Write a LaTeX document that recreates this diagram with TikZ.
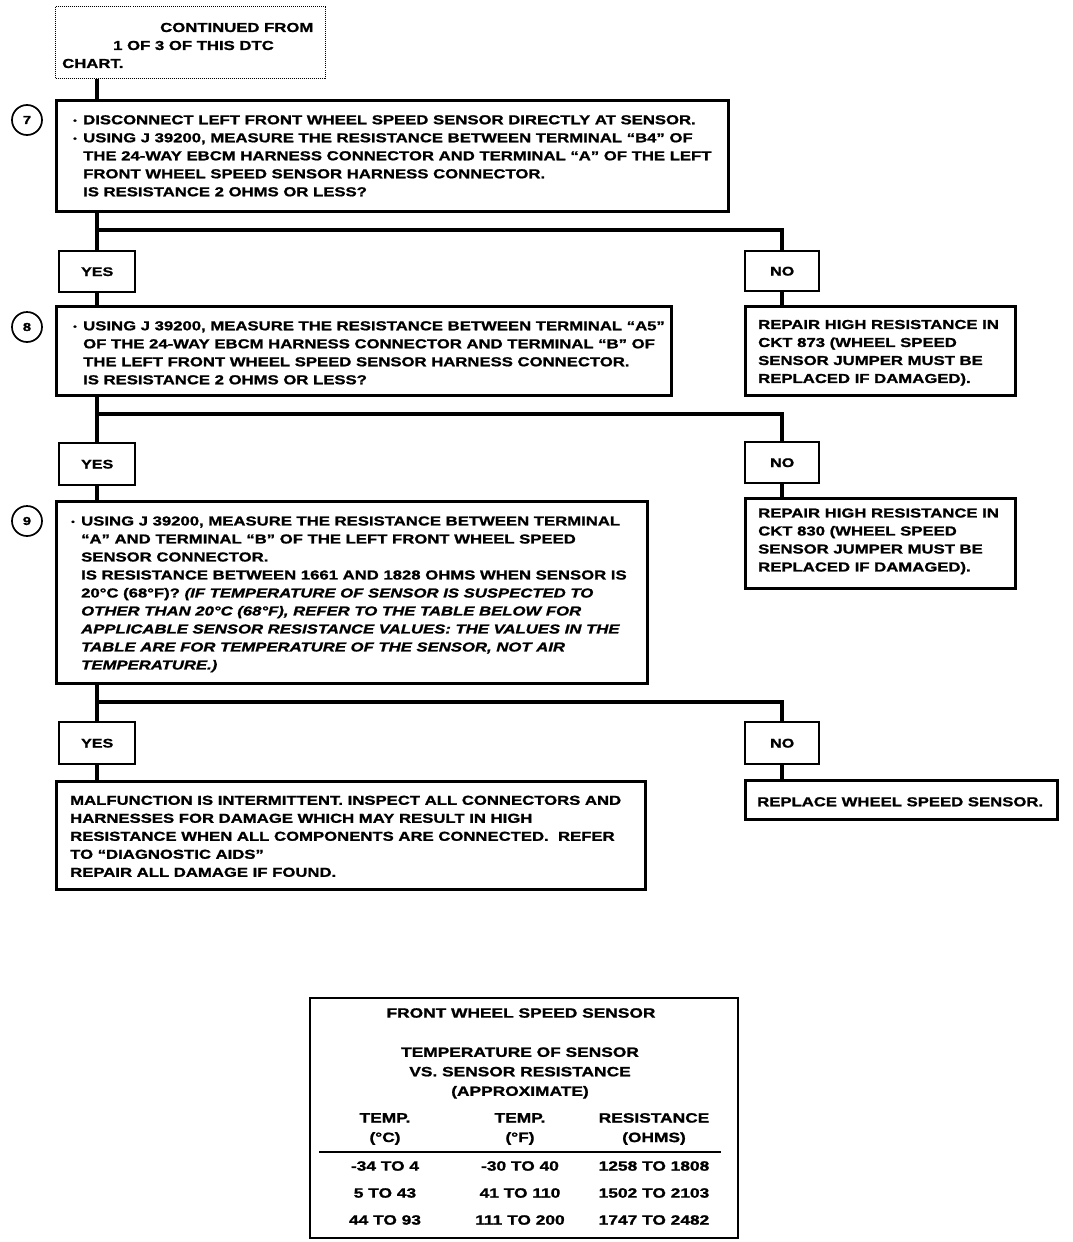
\documentclass[tikz,border=0pt]{standalone}
\usepackage{fontspec}
\setmainfont{Liberation Sans}[FakeStretch=1.285, BoldFeatures={FakeBold=1.3}, BoldItalicFeatures={FakeBold=1.3}]
\usetikzlibrary{calc}
\tikzset{
  box/.style={draw, rectangle, line width=2.6pt, inner sep=0pt, anchor=north west},
  txt/.style={align=left, inner sep=0pt, anchor=west, font=\bfseries\fontsize{13}{18}\selectfont},
  yn/.style={draw, rectangle, line width=2.4pt, inner sep=0pt, anchor=north west, minimum width=76, minimum height=41, font=\bfseries\fontsize{12.5}{14}\selectfont},
  stepc/.style={draw, circle, line width=1.7pt, minimum size=30, inner sep=0pt, font=\bfseries\fontsize{11.5}{12}\selectfont},
  conn/.style={line width=3.6pt},
  tabt/.style={align=center, inner sep=0pt, font=\bfseries\fontsize{13.5}{19.5}\selectfont},
}
\newcommand{\bul}{\makebox[10pt][l]{\raisebox{1pt}{\fontsize{8}{8}\selectfont •}}}
\newcommand{\ind}{\hspace*{10pt}}
\begin{document}
\begin{tikzpicture}[x=1pt,y=-1pt]
\useasboundingbox (0,0) rectangle (1072,1242);

% top continued box
\node[draw, rectangle, densely dotted, line width=1pt, inner sep=0pt, anchor=north west, minimum width=270, minimum height=72] (top) at (55,6) {};
\node[txt] (ttop) at ($(top.west)+(7,3)$) {\hspace*{98pt}CONTINUED FROM\\\hspace*{51pt}1 OF 3 OF THIS DTC\\CHART.};

% step 7
\node[box, minimum width=672, minimum height=111] (b7) at (55,99) {};
\node[stepc] (s7) at (27,120) {7};
\node[txt] (t7) at ($(b7.west)+(18,0)$) {\bul DISCONNECT LEFT FRONT WHEEL SPEED SENSOR DIRECTLY AT SENSOR.\\
\bul USING J 39200, MEASURE THE RESISTANCE BETWEEN TERMINAL “B4” OF\\
\ind THE 24-WAY EBCM HARNESS CONNECTOR AND TERMINAL “A” OF THE LEFT\\
\ind FRONT WHEEL SPEED SENSOR HARNESS CONNECTOR.\\
\ind IS RESISTANCE 2 OHMS OR LESS?};

\node[yn] (y1) at (58,250) {YES};
\node[yn, minimum width=74, minimum height=40] (n1) at (744,250) {NO};
\coordinate (j1) at (96,230);

% step 8
\node[box, minimum width=615, minimum height=89] (b8) at (55,305) {};
\node[stepc] (s8) at (27,327) {8};
\node[txt] (t8) at ($(b8.west)+(18,2)$) {\bul USING J 39200, MEASURE THE RESISTANCE BETWEEN TERMINAL “A5”\\
\ind OF THE 24-WAY EBCM HARNESS CONNECTOR AND TERMINAL “B” OF\\
\ind THE LEFT FRONT WHEEL SPEED SENSOR HARNESS CONNECTOR.\\
\ind IS RESISTANCE 2 OHMS OR LESS?};

\node[box, minimum width=270, minimum height=89] (r1) at (744,305) {};
\node[txt] (tr1) at ($(r1.west)+(14,2)$) {REPAIR HIGH RESISTANCE IN\\CKT 873 (WHEEL SPEED\\SENSOR JUMPER MUST BE\\REPLACED IF DAMAGED).};

\node[yn, minimum height=42] (y2) at (58,442) {YES};
\node[yn, minimum width=74, minimum height=41] (n2) at (744,441) {NO};
\coordinate (j2) at (96,414);

% step 9
\node[box, minimum width=591, minimum height=182] (b9) at (55,500) {};
\node[stepc] (s9) at (27,521) {9};
\node[txt] (t9) at ($(b9.west)+(16,2)$) {\bul USING J 39200, MEASURE THE RESISTANCE BETWEEN TERMINAL\\
\ind “A” AND TERMINAL “B” OF THE LEFT FRONT WHEEL SPEED\\
\ind SENSOR CONNECTOR.\\
\ind IS RESISTANCE BETWEEN 1661 AND 1828 OHMS WHEN SENSOR IS\\
\ind 20°C (68°F)? \itshape (IF TEMPERATURE OF SENSOR IS SUSPECTED TO\\
\ind \itshape OTHER THAN 20°C (68°F), REFER TO THE TABLE BELOW FOR\\
\ind \itshape APPLICABLE SENSOR RESISTANCE VALUES: THE VALUES IN THE\\
\ind \itshape TABLE ARE FOR TEMPERATURE OF THE SENSOR, NOT AIR\\
\ind \itshape TEMPERATURE.)};

\node[box, minimum width=270, minimum height=90] (r2) at (744,497) {};
\node[txt] (tr2) at ($(r2.west)+(14,-2)$) {REPAIR HIGH RESISTANCE IN\\CKT 830 (WHEEL SPEED\\SENSOR JUMPER MUST BE\\REPLACED IF DAMAGED).};

\node[yn, minimum height=42] (y3) at (58,721) {YES};
\node[yn, minimum width=74, minimum height=42] (n3) at (744,721) {NO};
\coordinate (j3) at (96,702);

% results
\node[box, minimum width=589, minimum height=108] (b10) at (55,780) {};
\node[txt] (t10) at ($(b10.west)+(15,1)$) {MALFUNCTION IS INTERMITTENT. INSPECT ALL CONNECTORS AND\\
HARNESSES FOR DAMAGE WHICH MAY RESULT IN HIGH\\
RESISTANCE WHEN ALL COMPONENTS ARE CONNECTED.\ \ REFER\\
TO “DIAGNOSTIC AIDS”\\
REPAIR ALL DAMAGE IF FOUND.};

\node[box, minimum width=312, minimum height=39] (r3) at (744,779) {};
\node[txt] (tr3) at ($(r3.west)+(13,2)$) {REPLACE WHEEL SPEED SENSOR.};

% connectors
\draw[conn] (top.south -| y1.north) -- (b7.north -| y1.north);
\draw[conn] (b7.south -| y1.north) -- (y1.north);
\draw[conn] (j1) -| (n1.north);
\draw[conn] (y1.south) -- (b8.north -| y1.south);
\draw[conn] (n1.south) -- (r1.north -| n1.south);
\draw[conn] (b8.south -| y2.north) -- (y2.north);
\draw[conn] (j2) -| (n2.north);
\draw[conn] (y2.south) -- (b9.north -| y2.south);
\draw[conn] (n2.south) -- (r2.north -| n2.south);
\draw[conn] (b9.south -| y3.north) -- (y3.north);
\draw[conn] (j3) -| (n3.north);
\draw[conn] (y3.south) -- (b10.north -| y3.south);
\draw[conn] (n3.south) -- (r3.north -| n3.south);

% table
\node[box, line width=2pt, minimum width=428, minimum height=240] (tab) at (309,997) {};
\node[tabt] (tt1) at (521,1013) {FRONT WHEEL SPEED SENSOR};
\node[tabt] (tt2) at (520,1073) {TEMPERATURE OF SENSOR\\VS. SENSOR RESISTANCE\\(APPROXIMATE)};
\node[tabt] (h1) at (385,1129) {TEMP.\\(°C)};
\node[tabt] (h2) at (520,1129) {TEMP.\\(°F)};
\node[tabt] (h3) at (654,1129) {RESISTANCE\\(OHMS)};
\coordinate (rl) at (319,1152);
\coordinate (rr) at (721,1152);
\draw[line width=2.2pt] (rl) -- (rr);
\node[tabt] (c11) at (385,1166) {-34 TO 4};
\node[tabt] (c12) at (520,1166) {-30 TO 40};
\node[tabt] (c13) at (654,1166) {1258 TO 1808};
\node[tabt] (c21) at (385,1193) {5 TO 43};
\node[tabt] (c22) at (520,1193) {41 TO 110};
\node[tabt] (c23) at (654,1193) {1502 TO 2103};
\node[tabt] (c31) at (385,1220) {44 TO 93};
\node[tabt] (c32) at (520,1220) {111 TO 200};
\node[tabt] (c33) at (654,1220) {1747 TO 2482};
\end{tikzpicture}
\end{document}
